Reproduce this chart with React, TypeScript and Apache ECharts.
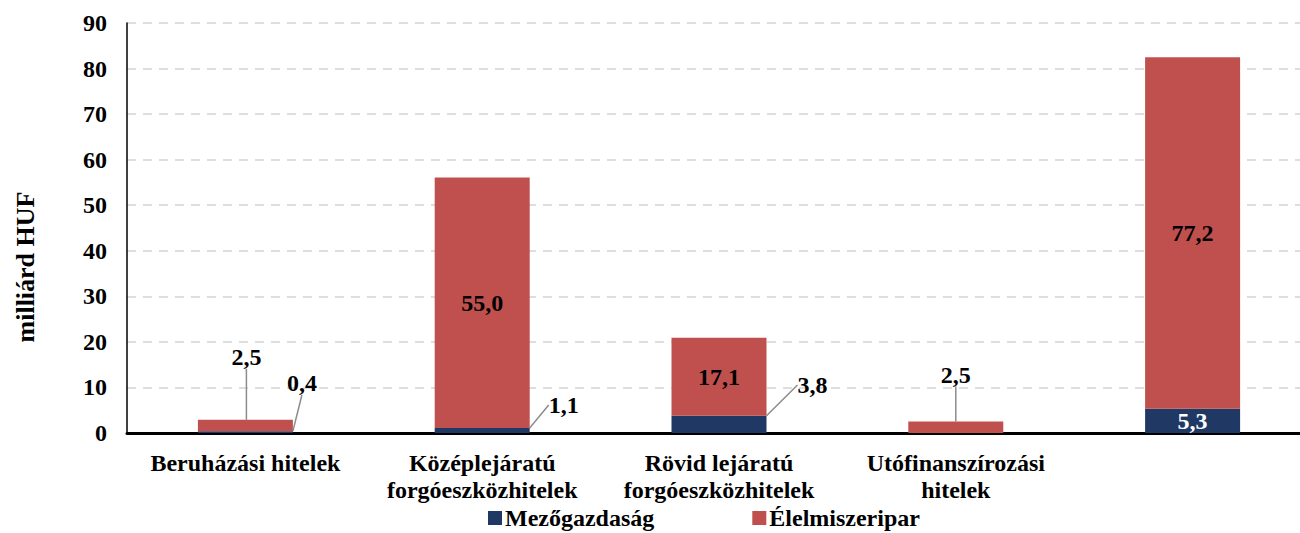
import React, { useEffect, useRef } from "react";
import * as echarts from "echarts";

const categories = [
  "Beruházási hitelek",
  "Középlejáratú\nforgóeszközhitelek",
  "Rövid lejáratú\nforgóeszközhitelek",
  "Utófinanszírozási\nhitelek",
  "",
];
const mezogazdasag = [0.4, 1.1, 3.8, 0, 5.3];
const elelmiszeripar = [2.5, 55.0, 17.1, 2.5, 77.2];
const yTicks = { min: 0, max: 90, interval: 10 };

const FONT = "'Liberation Serif', 'Times New Roman', serif";
const BLUE = "#1F3864";
const RED = "#C0504D";
const FS = 24;
const fmt = (v: number) => v.toFixed(1).replace(".", ",");

const LINE_STYLE = { color: "#8c8c8c", width: 1.5 };

function leaderLayout(params: any) {
  const r = params.rect;
  const si = params.seriesIndex;
  const di = params.dataIndex;
  const cx = r.x + r.width / 2;
  const rx = r.x + r.width;
  const top = r.y;
  const bot = r.y + r.height;
  const base = { align: "center", verticalAlign: "middle" };
  if (si === 1 && di === 0) {
    return { ...base, x: cx + 1, y: top - 63, labelLinePoints: [[cx, top], [cx, top - 30], [cx, top - 46]] };
  }
  if (si === 1 && di === 3) {
    return { ...base, x: cx, y: top - 47, labelLinePoints: [[cx, top], [cx, top - 15], [cx, top - 30]] };
  }
  if (si === 0 && di === 0) {
    return { ...base, x: rx + 9, y: bot - 50, labelLinePoints: [[rx, bot - 1], [rx + 5, bot - 17], [rx + 9, bot - 33]] };
  }
  if (si === 0 && di === 1) {
    return { ...base, x: rx + 34, y: bot - 28, labelLinePoints: [[rx, bot - 3], [rx, bot - 27], [rx + 13, bot - 29]] };
  }
  if (si === 0 && di === 2) {
    return { ...base, x: rx + 46, y: bot - 48, labelLinePoints: [[rx, bot - 10], [rx + 11, bot - 47], [rx + 23, bot - 47]] };
  }
  return {};
}

export default function App() {
  const ref = useRef<HTMLDivElement>(null);
  useEffect(() => {
    if (!ref.current) return;
    const chart = echarts.init(ref.current, undefined, { renderer: "svg" });
    const labelBase = {
      fontFamily: FONT,
      fontWeight: "bold",
      fontSize: FS,
      color: "#000",
    };
    const blueData = mezogazdasag.map((v, i) => {
      if (v === 0) return { value: v, label: { show: false } };
      if (i === 4)
        return { value: v, label: { show: true, position: "inside", color: "#fff", offset: [0, 3] } };
      return { value: v, label: { show: true, position: "inside" }, labelLine: { show: true, lineStyle: LINE_STYLE } };
    });
    const redData = elelmiszeripar.map((v, i) => {
      if (i === 0 || i === 3)
        return { value: v, label: { show: true, position: "inside" }, labelLine: { show: true, lineStyle: LINE_STYLE } };
      return { value: v, label: { show: true, position: "inside" } };
    });
    chart.setOption({
      animation: false,
      textStyle: { fontFamily: FONT },
      grid: { left: 127, top: 23, width: 1184, height: 410, containLabel: false },
      legend: {
        left: 488,
        top: 506,
        padding: 0,
        itemWidth: 14,
        itemHeight: 14,
        itemGap: 98,
        icon: "rect",
        textStyle: {
          fontFamily: FONT,
          fontWeight: "bold",
          fontSize: FS,
          lineHeight: 22,
          color: "#000",
          padding: [0, 0, 0, -2],
        },
        data: ["Mezőgazdaság", "Élelmiszeripar"],
      },
      xAxis: {
        type: "category",
        data: categories,
        axisLine: { show: true, lineStyle: { color: "#000", width: 3 } },
        axisTick: { show: false },
        axisLabel: {
          interval: 0,
          fontFamily: FONT,
          fontWeight: "bold",
          fontSize: FS,
          lineHeight: 27,
          color: "#000",
          margin: 16,
        },
      },
      yAxis: {
        type: "value",
        min: yTicks.min,
        max: yTicks.max,
        interval: yTicks.interval,
        axisLine: { show: true, lineStyle: { color: "#000", width: 1.5 } },
        axisTick: { show: false },
        axisLabel: {
          fontFamily: FONT,
          fontWeight: "bold",
          fontSize: FS,
          color: "#000",
          margin: 20,
        },
        splitLine: { show: true, lineStyle: { color: "#d4d4d4", width: 1.5, type: [9, 7] } },
      },
      graphic: [
        {
          type: "text",
          x: 25,
          y: 267,
          rotation: Math.PI / 2,
          style: {
            text: "milliárd HUF",
            fontFamily: FONT,
            fontWeight: "bold",
            fontSize: 26,
            fill: "#000",
            align: "center",
            verticalAlign: "middle",
          },
        },
      ],
      series: [
        {
          name: "Mezőgazdaság",
          type: "bar",
          stack: "total",
          barWidth: 95,
          itemStyle: { color: BLUE },
          label: { ...labelBase, formatter: (p: any) => fmt(p.value) },
          labelLayout: leaderLayout,
          data: blueData,
        },
        {
          name: "Élelmiszeripar",
          type: "bar",
          stack: "total",
          barWidth: 95,
          itemStyle: { color: RED },
          label: { ...labelBase, formatter: (p: any) => fmt(p.value) },
          labelLayout: leaderLayout,
          data: redData,
        },
      ],
    });
    return () => chart.dispose();
  }, []);
  return (
    <div
      ref={ref}
      style={{ position: "fixed", left: 0, top: 0, width: 1320, height: 533, background: "#fff" }}
    />
  );
}
